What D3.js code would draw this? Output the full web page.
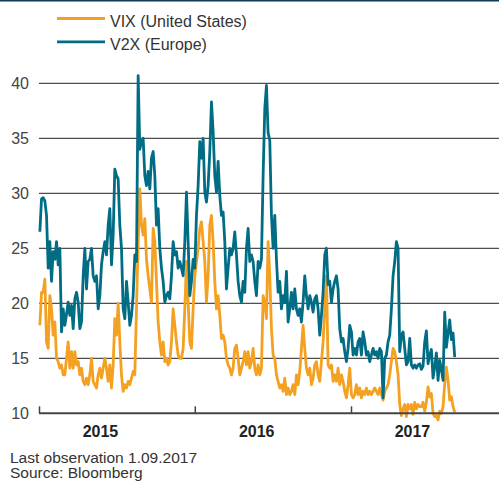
<!DOCTYPE html>
<html>
<head>
<meta charset="utf-8">
<script src="https://d3js.org/d3.v7.min.js"></script>
<style>
  html, body { margin: 0; padding: 0; background: #fff; }
  svg { display: block; font-family: "Liberation Sans", Arial, Helvetica, sans-serif; }
</style>
</head>
<body>
<svg id="chart"></svg>
<script>
var width = 499, height = 482;

// series (one value roughly every 4 days)
var seriesNames = ["VIX (United States)", "V2X (Europe)"];
var seriesColors = ["#f4a020", "#006d85"];
var firstDay = new Date(2015, 0, 3), lastDay = new Date(2017, 8, 1);
var yearTicks = [2015, 2016, 2017];
var yTicks = [10, 15, 20, 25, 30, 35, 40];
var footnotes = ["Last observation 1.09.2017", "Source: Bloomberg"];

var vix = [
  // 2015 H1 .. Aug
  18.0, 21.0, 21.0, 22.2, 16.5, 15.9, 20.7, 19.5, 17.1, 18.3,
  15.0, 14.7, 14.1, 14.4, 13.5, 13.5, 15.0, 16.5, 14.1, 15.6,
  14.1, 15.6, 14.4, 14.7, 13.5, 14.1, 12.9, 12.6, 13.2, 12.6,
  13.5, 15.0, 12.9, 12.6, 12.3, 13.5, 14.1, 13.2, 14.1, 15.0,
  14.1, 12.9, 14.4, 12.3, 14.4, 18.6, 17.1, 20.0, 16.5, 13.5,
  12.0, 12.6, 12.3, 12.9, 12.6, 13.2, 13.8, 13.5, 19.5, 25.6,
  // Aug 2015 .. mid 2016
  30.4, 27.1, 26.2, 27.7, 24.0, 22.5, 21.3, 20.1, 26.8, 25.6,
  22.0, 18.3, 16.5, 15.3, 16.5, 14.7, 15.0, 14.4, 14.7, 16.5,
  19.5, 18.0, 16.5, 15.3, 15.0, 15.0, 15.9, 19.5, 23.8, 20.1,
  16.5, 15.9, 19.5, 22.5, 23.8, 25.0, 26.8, 27.4, 25.6, 23.8,
  20.1, 22.5, 27.1, 28.0, 25.6, 22.0, 19.5, 20.7, 18.9, 16.8,
  17.1, 16.5, 15.0, 14.4, 14.1, 13.5, 14.1, 15.9, 16.2, 15.0,
  13.5, 14.1, 14.7,
  // mid 2016 .. end 2016
  15.6, 14.4, 15.6, 14.1, 14.7, 15.9, 14.1, 13.5, 14.4, 13.5,
  14.1, 20.7, 20.1, 18.6, 25.6, 22.5, 17.7, 15.3, 15.0, 13.5,
  12.9, 12.3, 12.6, 12.0, 13.2, 11.7, 12.3, 11.7, 12.0, 12.6,
  11.7, 13.5, 12.6, 13.8, 15.9, 18.0, 15.9, 14.1, 13.5, 14.1,
  12.6, 13.2, 14.4, 14.7, 13.5, 12.9, 14.7, 16.5, 19.5, 22.5,
  14.4, 14.1, 14.4, 12.9, 13.5, 12.9, 14.1, 12.6, 13.5, 12.9,
  12.0, 11.4, 12.6,
  // 2017
  14.1, 11.7, 11.4, 11.7, 12.6, 11.7, 12.3, 11.4, 12.0, 11.7,
  12.3, 11.7, 12.0, 11.7, 12.0, 12.3, 12.0, 11.7, 12.3, 11.7,
  11.2, 12.0, 12.3, 12.6, 13.5, 14.7, 15.9, 15.6, 14.7, 13.5,
  10.8, 9.8, 10.4, 10.8, 9.7, 10.8, 10.4, 10.8, 9.9, 11.0,
  10.4, 10.8, 10.6, 10.6, 11.0, 10.2, 11.0, 12.4, 11.5, 11.8,
  10.0, 9.7, 9.8, 9.4, 10.2, 10.0, 10.6, 12.7, 14.2, 13.0,
  11.2, 11.5, 10.6, 10.1
];

var v2x = [
  // 2015 H1 .. Aug
  26.5, 29.5, 29.6, 29.3, 28.0, 23.2, 25.6, 22.0, 24.7, 24.0,
  25.6, 23.5, 25.0, 17.4, 19.5, 18.0, 19.0, 20.1, 18.9, 19.8,
  17.7, 20.4, 21.0, 20.1, 17.7, 18.3, 22.5, 25.0, 21.3, 23.8,
  24.0, 25.0, 22.5, 22.0, 22.5, 19.5, 20.7, 23.5, 24.7, 25.6,
  24.4, 27.1, 28.6, 23.5, 26.2, 32.2, 31.6, 31.3, 27.1, 25.0,
  19.5, 18.6, 22.0, 20.1, 18.0, 18.9, 20.7, 24.4, 23.8, 40.7,
  // Aug 2015 .. mid 2016
  34.0, 34.7, 35.0, 31.6, 30.7, 32.0, 30.4, 33.2, 33.8, 31.6,
  27.1, 28.6, 25.0, 23.2, 22.0, 20.1, 20.7, 21.0, 20.4, 22.5,
  25.6, 24.4, 24.7, 23.2, 23.8, 23.2, 22.5, 25.6, 30.1, 25.6,
  20.7, 22.0, 24.0, 23.2, 28.0, 30.7, 34.7, 33.2, 35.0, 30.1,
  29.2, 30.7, 33.8, 38.3, 35.6, 31.6, 30.1, 32.9, 29.8, 28.0,
  28.3, 25.6, 21.3, 23.2, 25.0, 24.4, 25.0, 26.5, 24.4, 22.0,
  20.7, 20.1, 22.0,
  // mid 2016 .. end 2016
  21.0, 25.0, 26.8, 23.8, 24.4, 23.8, 22.0, 20.7, 23.8, 23.2,
  24.0, 31.6, 37.7, 39.8, 35.5, 34.8, 28.0, 25.0, 28.0, 24.0,
  21.0, 22.0, 19.5, 20.7, 20.1, 22.9, 18.3, 19.5, 21.0, 19.5,
  21.3, 19.5, 18.9, 19.5, 18.3, 20.1, 22.5, 20.7, 19.5, 20.7,
  20.1, 19.2, 20.4, 20.7, 19.5, 17.1, 18.9, 21.0, 24.4, 25.0,
  21.7, 22.0, 20.1, 21.3, 22.0, 22.5, 21.3, 17.7, 16.5, 16.8,
  15.6, 14.7, 15.9,
  // 2017
  18.0, 17.4, 15.3, 15.9, 15.3, 16.5, 16.8, 15.3, 17.4, 16.5,
  15.3, 15.6, 14.7, 15.3, 15.9, 15.3, 15.6, 15.0, 15.9, 15.6,
  11.4, 15.0, 15.3, 16.5, 17.1, 19.5, 22.5, 23.8, 25.6, 25.0,
  15.6, 17.1, 17.4, 15.9, 14.4, 14.7, 16.8, 14.4, 14.1, 14.4,
  14.1, 14.4, 14.5, 14.0, 14.3, 16.5, 17.5, 14.5, 15.3, 15.8,
  13.2, 14.2, 15.5, 13.0, 14.8, 14.0, 13.0, 19.2, 16.0, 17.3,
  18.5, 16.7, 17.3, 15.1
];

// evenly spaced observation dates between first and last observation
var dates = d3.range(vix.length).map(function (i) {
  return new Date(+firstDay + i * (lastDay - firstDay) / (vix.length - 1));
});

var svg = d3.select("#chart").attr("width", width).attr("height", height);

var x = d3.scaleTime()
  .domain([new Date(2015, 0, 1), new Date(2017, 0, 1)])
  .range([39, 351]);

var y = d3.scaleLinear()
  .domain([10, 40])
  .range([413.3, 83.3]);

// top rule
svg.append("rect")
  .attr("x", 0).attr("y", 0)
  .attr("width", width).attr("height", 1.5)
  .attr("fill", "#0f3b52");

// grid lines
svg.append("g")
  .selectAll("line")
  .data(yTicks.filter(function (d) { return d > 10; }))
  .join("line")
  .attr("x1", 39).attr("x2", width)
  .attr("y1", function (d) { return y(d); })
  .attr("y2", function (d) { return y(d); })
  .attr("stroke", "#222")
  .attr("stroke-width", 1);

// y labels
svg.append("g")
  .selectAll("text")
  .data(yTicks)
  .join("text")
  .attr("x", 29)
  .attr("y", function (d) { return y(d); })
  .attr("dy", "0.36em")
  .attr("text-anchor", "end")
  .attr("fill", "#444")
  .style("font-size", "16px")
  .text(function (d) { return d; });

// lines
var line = d3.line()
  .x(function (d, i) { return x(dates[i]); })
  .y(function (d) { return y(d); });

svg.append("g")
  .selectAll("path")
  .data([vix, v2x])
  .join("path")
  .attr("d", line)
  .attr("fill", "none")
  .attr("stroke", function (d, i) { return seriesColors[i]; })
  .attr("stroke-width", 2.8)
  .attr("stroke-linejoin", "round");

// x axis
var xAxis = svg.append("g")
  .attr("transform", "translate(0," + y(10) + ")")
  .call(d3.axisBottom(x)
    .tickValues(yearTicks.map(function (yr) { return new Date(yr, 0, 1); }))
    .tickSizeInner(-7)
    .tickSizeOuter(0)
    .tickFormat(""));
xAxis.select(".domain").remove();
xAxis.selectAll(".tick line").attr("stroke", "#444").attr("stroke-width", 1.5);
xAxis.append("line")
  .attr("x1", 39).attr("x2", width)
  .attr("stroke", "#444").attr("stroke-width", 2);

svg.append("g")
  .selectAll("text")
  .data(yearTicks)
  .join("text")
  .attr("x", function (d) { return x(new Date(d, 4, 25)); })
  .attr("y", 436.5)
  .attr("text-anchor", "middle")
  .attr("fill", "#222")
  .style("font-size", "16px")
  .style("font-weight", "bold")
  .text(function (d) { return d; });

// legend
var legend = svg.append("g")
  .selectAll("g")
  .data(seriesNames)
  .join("g")
  .attr("transform", function (d, i) { return "translate(57," + (18.5 + i * 23.3) + ")"; });

legend.append("line")
  .attr("x1", 0).attr("x2", 48)
  .attr("stroke", function (d, i) { return seriesColors[i]; })
  .attr("stroke-width", 2.8);

legend.append("text")
  .attr("x", 53)
  .attr("y", 8)
  .attr("fill", "#333")
  .style("font-size", "16px")
  .text(function (d) { return d; });

// footnotes
svg.append("g")
  .selectAll("text")
  .data(footnotes)
  .join("text")
  .attr("x", 10)
  .attr("y", function (d, i) { return 462.5 + i * 15.5; })
  .attr("fill", "#333")
  .style("font-size", "15.5px")
  .text(function (d) { return d; });
</script>
</body>
</html>
